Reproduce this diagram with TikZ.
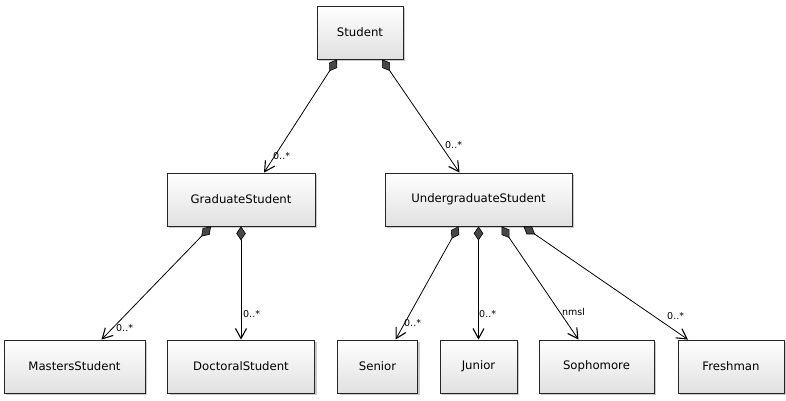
\documentclass[tikz,border=0pt]{standalone}
\usepackage{fontspec}
\setmainfont{DejaVu Sans}
\usetikzlibrary{arrows.meta,shadows}
\begin{document}
\begin{tikzpicture}[x=1pt,y=-1pt,
  cls/.style={draw=black!85, line width=0.8pt, top color=white, bottom color=black!12,
    minimum height=53pt, inner sep=0pt, font=\fontsize{11.7}{13}\selectfont,
    drop shadow={shadow xshift=2pt,shadow yshift=-2pt,opacity=0.35,fill=black!60}},
  comp/.style={line width=0.8pt,
    {Diamond[fill=black!72,length=14pt,width=9.5pt,line width=0.6pt]}-{Straight Barb[length=10pt,width=11pt,line width=1.1pt]}},
  mult/.style={font=\fontsize{9.5}{11}\selectfont, inner sep=0pt, anchor=west}]
\useasboundingbox (0,0) rectangle (786,400);
\node[cls, minimum width=86pt]  (stu)  at (360,32.5)   {Student};
\node[cls, minimum width=148pt] (grad) at (241,199.5)  {GraduateStudent};
\node[cls, minimum width=187pt] (ug)   at (478.5,199.5){UndergraduateStudent};
\node[cls, minimum width=141pt] (ms)   at (74.5,366.5) {MastersStudent};
\node[cls, minimum width=147pt] (doc)  at (241,366.5)  {DoctoralStudent};
\node[cls, minimum width=80pt]  (sen)  at (377.5,366.5){Senior};
\node[cls, minimum width=77pt]  (jun)  at (478.5,366.5){Junior};
\node[cls, minimum width=115pt] (sop)  at (596.5,366.5){Sophomore};
\node[cls, minimum width=106pt] (fre)  at (731,366.5)  {Freshman};

\draw[comp] ([xshift=-23pt]stu.south) -- ([xshift=23pt]grad.north);
\draw[comp] ([xshift=22pt]stu.south) -- ([xshift=-19pt]ug.north);
\draw[comp] ([xshift=-30pt]grad.south) -- ([xshift=27pt]ms.north);
\draw[comp] (grad.south) -- (doc.north);
\draw[comp] ([xshift=-20pt]ug.south) -- ([xshift=18pt]sen.north);
\draw[comp] (ug.south) -- (jun.north);
\draw[comp] ([xshift=23pt]ug.south) -- ([xshift=-18pt]sop.north);
\draw[comp] ([xshift=45pt]ug.south) -- ([xshift=-43pt]fre.north);

\node[mult] (l1) at (273,156) {0..*};
\node[mult] (l2) at (445,145) {0..*};
\node[mult] (l3) at (116,328) {0..*};
\node[mult] (l4) at (243,314) {0..*};
\node[mult] (l5) at (404,323) {0..*};
\node[mult] (l6) at (479,314) {0..*};
\node[mult] (l7) at (562,312) {nmsl};
\node[mult] (l8) at (667,316) {0..*};
\end{tikzpicture}
\end{document}
